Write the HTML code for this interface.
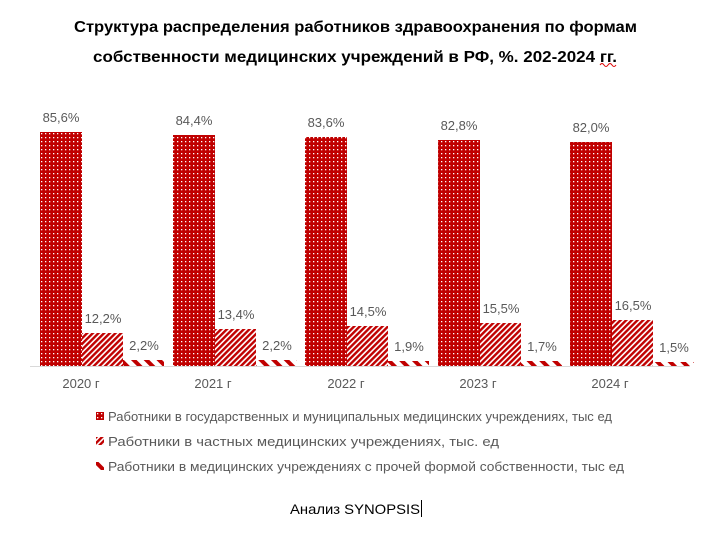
<!DOCTYPE html>
<html><head><meta charset="utf-8"><style>
body{margin:0;background:#fff;width:722px;height:548px;overflow:hidden;font-family:"Liberation Sans",sans-serif}
</style></head><body>
<svg width="722" height="548" xmlns="http://www.w3.org/2000/svg">
<defs>
<pattern id="dots" width="4" height="4" patternUnits="userSpaceOnUse">
<rect width="4" height="4" fill="#c00000"/><rect x="1" y="1" width="1.3" height="1.3" fill="#fff"/>
</pattern>
<pattern id="hatch" width="4" height="4" patternUnits="userSpaceOnUse" patternTransform="rotate(45)">
<rect width="4" height="4" fill="#fff"/><rect width="2.4" height="4" fill="#c00000"/>
</pattern>
<pattern id="wide" width="9" height="9" patternUnits="userSpaceOnUse" patternTransform="rotate(-45)">
<rect width="9" height="9" fill="#fff"/><rect width="4" height="9" fill="#c00000"/>
</pattern>
</defs>
<text x="74" y="32" font-size="16" font-weight="bold" fill="#000" textLength="563" lengthAdjust="spacingAndGlyphs">Структура распределения работников здравоохранения по формам</text>
<text x="93" y="62" font-size="16" font-weight="bold" fill="#000" textLength="524" lengthAdjust="spacingAndGlyphs">собственности медицинских учреждений в РФ, %. 202-2024 гг.</text>
<path d="M600 65 q2 -3 4 0 q2 3 4 0 q2 -3 4 0 q2 3 4 0" stroke="#d00" fill="none" stroke-width="1"/>
<line x1="30" y1="366.5" x2="690" y2="366.5" stroke="#d9d9d9"/>
<g font-size="13" fill="#595959" text-anchor="middle">
<rect x="40" y="132" width="42" height="234" fill="url(#dots)"/>
<rect x="82" y="333" width="41" height="33" fill="url(#hatch)"/>
<rect x="123" y="360" width="41" height="6" fill="url(#wide)"/>
<text x="61" y="122">85,6%</text><text x="103" y="323">12,2%</text><text x="144" y="350">2,2%</text>
<text x="81" y="388">2020 г</text>

<rect x="173" y="135" width="42" height="231" fill="url(#dots)"/>
<rect x="215" y="329" width="41" height="37" fill="url(#hatch)"/>
<rect x="256" y="360" width="41" height="6" fill="url(#wide)"/>
<text x="194" y="125">84,4%</text><text x="236" y="319">13,4%</text><text x="277" y="350">2,2%</text>
<text x="213" y="388">2021 г</text>

<rect x="305" y="137" width="42" height="229" fill="url(#dots)"/>
<rect x="347" y="326" width="41" height="40" fill="url(#hatch)"/>
<rect x="388" y="361" width="41" height="5" fill="url(#wide)"/>
<text x="326" y="127">83,6%</text><text x="368" y="316">14,5%</text><text x="409" y="351">1,9%</text>
<text x="346" y="388">2022 г</text>

<rect x="438" y="140" width="42" height="226" fill="url(#dots)"/>
<rect x="480" y="323" width="41" height="43" fill="url(#hatch)"/>
<rect x="521" y="361" width="41" height="5" fill="url(#wide)"/>
<text x="459" y="130">82,8%</text><text x="501" y="313">15,5%</text><text x="542" y="351">1,7%</text>
<text x="478" y="388">2023 г</text>

<rect x="570" y="142" width="42" height="224" fill="url(#dots)"/>
<rect x="612" y="320" width="41" height="46" fill="url(#hatch)"/>
<rect x="653" y="362" width="41" height="4" fill="url(#wide)"/>
<text x="591" y="132">82,0%</text><text x="633" y="310">16,5%</text><text x="674" y="352">1,5%</text>
<text x="610" y="388">2024 г</text>
</g>
<g font-size="13" fill="#595959">
<rect x="96" y="412" width="8" height="8" fill="url(#dots)"/>
<text x="108" y="421" textLength="504" lengthAdjust="spacingAndGlyphs">Работники в государственных и муниципальных медицинских учреждениях, тыс ед</text>
<rect x="96" y="437" width="8" height="8" fill="url(#hatch)"/>
<text x="108" y="446" textLength="391" lengthAdjust="spacingAndGlyphs">Работники в частных медицинских учреждениях, тыс. ед</text>
<rect x="96" y="462" width="8" height="8" fill="url(#wide)"/>
<text x="108" y="471" textLength="516" lengthAdjust="spacingAndGlyphs">Работники в медицинских учреждениях с прочей формой собственности, тыс ед</text>
</g>
<text x="290" y="514" font-size="14" fill="#000" textLength="130" lengthAdjust="spacingAndGlyphs">Анализ SYNOPSIS</text>
<line x1="421.5" y1="500" x2="421.5" y2="517" stroke="#000"/>
</svg>
</body></html>
